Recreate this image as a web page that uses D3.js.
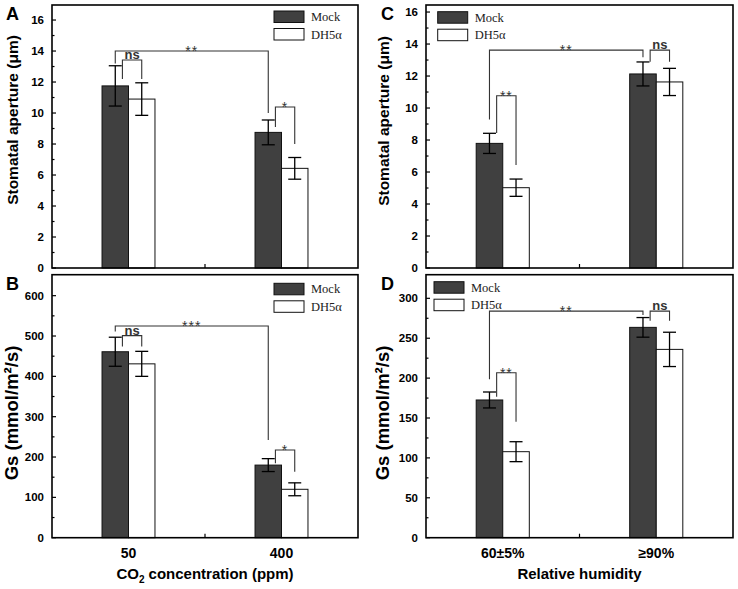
<!DOCTYPE html>
<html>
<head>
<meta charset="utf-8">
<script src="https://cdn.jsdelivr.net/npm/d3@7"></script>
<style>
body { margin: 0; background: #fff; }
</style>
</head>
<body>
<div id="chart"></div>
<script>
// Data
const seriesNames = ["Mock", "DH5α"];
const co2Groups = ["50", "400"];
const humidityGroups = ["60±5%", "≥90%"];

// A: stomatal aperture vs CO2
const apertureCO2Mock = [11.75, 8.75];
const apertureCO2MockErr = [1.3, 0.8];
const apertureCO2DH5a = [10.9, 6.43];
const apertureCO2DH5aErr = [1.05, 0.7];

// B: Gs vs CO2
const gsCO2Mock = [461, 180];
const gsCO2MockErr = [36, 16];
const gsCO2DH5a = [431, 120];
const gsCO2DH5aErr = [31, 16];

// C: stomatal aperture vs humidity
const apertureRHMock = [7.79, 12.13];
const apertureRHMockErr = [0.63, 0.75];
const apertureRHDH5a = [5.02, 11.63];
const apertureRHDH5aErr = [0.54, 0.85];

// D: Gs vs humidity
const gsRHMock = [172.6, 263.6];
const gsRHMockErr = [10, 12.3];
const gsRHDH5a = [107.8, 236];
const gsRHDH5aErr = [12.5, 21.5];

// significance brackets: a/b = [group, series], y = bar top line, la/lb = leg ends
const bracketsA = [
  { a: [0, 0], b: [1, 0], y: 14.0, la: 13.2, lb: 10.0, label: "**" },
  { a: [0, 0], b: [0, 1], y: 13.42, la: 12.2, lb: 12.2, label: "ns", pair: true },
  { a: [1, 0], b: [1, 1], y: 10.39, la: 9.1, lb: 8.0, label: "*", pair: true }
];
const bracketsB = [
  { a: [0, 0], b: [1, 0], y: 525, la: 511, lb: 242, label: "***" },
  { a: [0, 0], b: [0, 1], y: 501, la: 474, lb: 474, label: "ns", pair: true },
  { a: [1, 0], b: [1, 1], y: 217.5, la: 184.5, lb: 163.6, label: "*", pair: true }
];
const bracketsC = [
  { a: [0, 0], b: [1, 0], y: 13.62, la: 9.29, lb: 13.17, label: "**" },
  { a: [1, 0], b: [1, 1], y: 13.62, la: 12.9, lb: 12.9, label: "ns", pair: true },
  { a: [0, 0], b: [0, 1], y: 10.77, la: 8.44, lb: 6.44, label: "**", pair: true }
];
const bracketsD = [
  { a: [0, 0], b: [1, 0], y: 284, la: 198.5, lb: 279, label: "**" },
  { a: [1, 0], b: [1, 1], y: 284, la: 272, lb: 272, label: "ns", pair: true },
  { a: [0, 0], b: [0, 1], y: 206.8, la: 176.7, lb: 145.4, label: "**", pair: true }
];

const width = 738, height = 589;
const svg = d3.select("#chart").append("svg")
  .attr("width", width)
  .attr("height", height);

const sans = "Liberation Sans, Arial, sans-serif";
const serif = "Liberation Serif, Times New Roman, serif";
const darkFill = "#404040";

function drawPanel(p) {
  const g = svg.append("g");
  const x0 = d3.scaleBand().domain(p.groups).range([p.left, p.right]).padding(0);
  const x1 = d3.scaleBand().domain(seriesNames).range([0, x0.bandwidth()])
    .paddingInner(0).paddingOuter(1.89);
  const y = d3.scaleLinear().domain([0, p.yMax]).range([p.bottom, p.top]);

  const rows = [];
  p.groups.forEach((grp, i) => {
    rows.push({ grp, s: seriesNames[0], v: p.mock[i], e: p.mockErr[i] });
    rows.push({ grp, s: seriesNames[1], v: p.dh[i], e: p.dhErr[i] });
  });

  // bars
  g.selectAll("rect.bar").data(rows).join("rect")
    .attr("class", "bar")
    .attr("x", d => x0(d.grp) + x1(d.s))
    .attr("y", d => y(d.v))
    .attr("width", x1.bandwidth())
    .attr("height", d => y(0) - y(d.v))
    .attr("fill", d => d.s === "Mock" ? darkFill : "#fff")
    .attr("stroke", "#111")
    .attr("stroke-width", 1);

  // error bars
  const cx = d => x0(d.grp) + x1(d.s) + x1.bandwidth() / 2;
  const eb = g.selectAll("g.err").data(rows).join("g").attr("class", "err")
    .attr("stroke", "#000").attr("stroke-width", 1.3);
  eb.append("line")
    .attr("x1", cx).attr("x2", cx)
    .attr("y1", d => y(d.v + d.e)).attr("y2", d => y(d.v - d.e));
  [1, -1].forEach(sg => {
    eb.append("line")
      .attr("x1", d => cx(d) - 6.5).attr("x2", d => cx(d) + 6.5)
      .attr("y1", d => y(d.v + sg * d.e)).attr("y2", d => y(d.v + sg * d.e));
  });

  // brackets
  const bx = (ref, isLeftPair) => {
    const c = x0(p.groups[ref[0]]) + x1(seriesNames[ref[1]]) + x1.bandwidth() / 2;
    return isLeftPair ? c + x1.bandwidth() * 0.27 : c;
  };
  p.brackets.forEach(b => {
    const xa = bx(b.a, b.pair), xb = bx(b.b, false);
    g.append("path")
      .attr("d", `M${xa},${y(b.la)}V${y(b.y)}H${xb}V${y(b.lb)}`)
      .attr("fill", "none")
      .attr("stroke", "#333")
      .attr("stroke-width", 1.1);
    const isNs = b.label === "ns";
    g.append("text")
      .attr("x", (xa + xb) / 2)
      .attr("y", isNs ? y(b.y) - 1 : y(b.y) + 5)
      .attr("text-anchor", "middle")
      .attr("font-family", sans)
      .attr("font-weight", isNs ? "bold" : "normal")
      .attr("font-size", isNs ? 13 : 14)
      .attr("letter-spacing", isNs ? 0 : 1)
      .attr("fill", "#333")
      .text(b.label);
  });

  // y axis ticks (inward), major + minor
  const majors = d3.range(0, p.yMax + 1e-9, p.major);
  const minors = d3.range(p.major / 2, p.yMax, p.major).filter(v => v < majors[majors.length - 1]);
  g.selectAll("line.maj").data(majors).join("line")
    .attr("x1", p.left).attr("x2", p.left + 4)
    .attr("y1", d => y(d)).attr("y2", d => y(d))
    .attr("stroke", "#000").attr("stroke-width", 1.2);
  g.selectAll("line.min").data(minors).join("line")
    .attr("x1", p.left).attr("x2", p.left + 2.5)
    .attr("y1", d => y(d)).attr("y2", d => y(d))
    .attr("stroke", "#000").attr("stroke-width", 1.2);
  g.selectAll("text.ytick").data(majors).join("text")
    .attr("x", p.left - 8)
    .attr("y", d => y(d) + 4)
    .attr("text-anchor", "end")
    .attr("font-family", sans)
    .attr("font-weight", "bold")
    .attr("font-size", 11.5)
    .text(d => d);

  // middle x tick
  const mid = (p.left + p.right) / 2;
  g.append("line")
    .attr("x1", mid).attr("x2", mid)
    .attr("y1", p.bottom).attr("y2", p.bottom - 4)
    .attr("stroke", "#000").attr("stroke-width", 1.2);

  // frame
  g.append("rect")
    .attr("x", p.left).attr("y", p.top)
    .attr("width", p.right - p.left).attr("height", p.bottom - p.top)
    .attr("fill", "none").attr("stroke", "#000").attr("stroke-width", 1.6);

  // legend
  seriesNames.forEach((s, i) => {
    g.append("rect")
      .attr("x", p.lx).attr("y", p.ly + i * 17.5)
      .attr("width", 30).attr("height", 11.5)
      .attr("fill", i === 0 ? darkFill : "#fff")
      .attr("stroke", "#111").attr("stroke-width", 1);
    g.append("text")
      .attr("x", p.lx + 37).attr("y", p.ly + i * 17.5 + 10)
      .attr("font-family", serif)
      .attr("font-size", 12.5)
      .attr("fill", "#222")
      .text(s);
  });

  // panel letter
  g.append("text")
    .attr("x", p.letterX).attr("y", p.top + 15)
    .attr("font-family", sans).attr("font-weight", "bold").attr("font-size", 18)
    .text(p.letter);

  // y label
  g.append("text")
    .attr("transform", `translate(${p.yLabelX},${p.yLabelY}) rotate(-90)`)
    .attr("text-anchor", "middle")
    .attr("font-family", sans).attr("font-weight", "bold").attr("font-size", p.yLabelSize)
    .html(p.yLabel);

  // x labels
  if (p.xLabel) {
    g.selectAll("text.xtick").data(p.groups).join("text")
      .attr("x", d => x0(d) + x0.bandwidth() / 2)
      .attr("y", p.bottom + 20)
      .attr("text-anchor", "middle")
      .attr("font-family", sans).attr("font-weight", "bold").attr("font-size", 14)
      .text(d => d);
    g.append("text")
      .attr("x", mid).attr("y", p.bottom + 41)
      .attr("text-anchor", "middle")
      .attr("font-family", sans).attr("font-weight", "bold").attr("font-size", 15)
      .html(p.xLabel);
  }
}

drawPanel({
  letter: "A", letterX: 6, left: 52, right: 358, top: 5, bottom: 268,
  yMax: 16.97, major: 2, groups: co2Groups,
  mock: apertureCO2Mock, mockErr: apertureCO2MockErr,
  dh: apertureCO2DH5a, dhErr: apertureCO2DH5aErr,
  brackets: bracketsA, lx: 274, ly: 11,
  yLabel: "Stomatal aperture (μm)", yLabelSize: 15.5, yLabelX: 18, yLabelY: 120
});
drawPanel({
  letter: "B", letterX: 6, left: 52, right: 358, top: 274.7, bottom: 537.7,
  yMax: 652, major: 100, groups: co2Groups,
  mock: gsCO2Mock, mockErr: gsCO2MockErr,
  dh: gsCO2DH5a, dhErr: gsCO2DH5aErr,
  brackets: bracketsB, lx: 274, ly: 283.3,
  yLabel: "Gs (mmol/m²/s)", yLabelSize: 18.5, yLabelX: 18, yLabelY: 413,
  xLabel: 'CO<tspan font-size="10" dy="4">2</tspan><tspan dy="-4"> concentration (ppm)</tspan>'
});
drawPanel({
  letter: "C", letterX: 381, left: 426, right: 733, top: 5, bottom: 268,
  yMax: 16.44, major: 2, groups: humidityGroups,
  mock: apertureRHMock, mockErr: apertureRHMockErr,
  dh: apertureRHDH5a, dhErr: apertureRHDH5aErr,
  brackets: bracketsC, lx: 437.7, ly: 11.7,
  yLabel: "Stomatal aperture (μm)", yLabelSize: 15.5, yLabelX: 389, yLabelY: 121
});
drawPanel({
  letter: "D", letterX: 381, left: 426, right: 733, top: 274.7, bottom: 537.7,
  yMax: 329.6, major: 50, groups: humidityGroups,
  mock: gsRHMock, mockErr: gsRHMockErr,
  dh: gsRHDH5a, dhErr: gsRHDH5aErr,
  brackets: bracketsD, lx: 434, ly: 281.7,
  yLabel: "Gs (mmol/m²/s)", yLabelSize: 18.5, yLabelX: 389, yLabelY: 413,
  xLabel: "Relative humidity"
});
</script>
</body>
</html>
